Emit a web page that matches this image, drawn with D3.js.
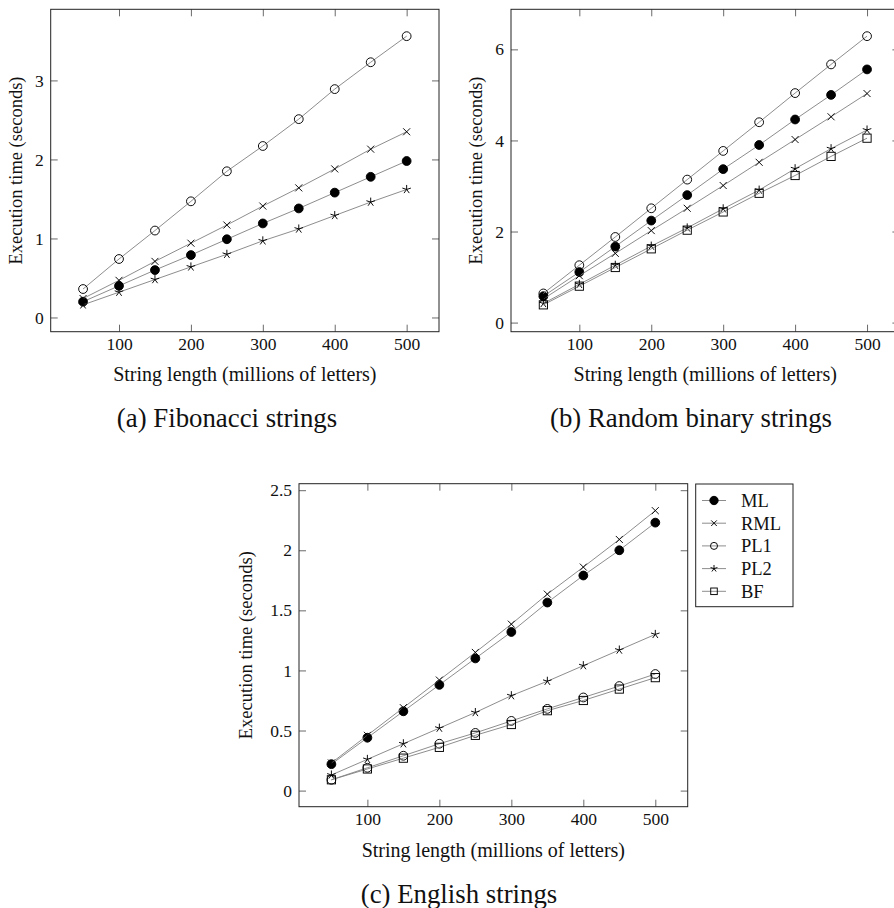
<!DOCTYPE html>
<html>
<head>
<meta charset="utf-8">
<script src="https://cdn.jsdelivr.net/npm/d3@7"></script>
<style>
  body { margin: 0; background: #fff; }
  svg { display: block; font-family: "Liberation Serif", "DejaVu Serif", serif; }
</style>
</head>
<body>
<svg id="fig" width="894" height="908"></svg>
<script>
// x values shared by all three plots (millions of letters)
const lengths = [50, 100, 150, 200, 250, 300, 350, 400, 450, 500];
const xTicks = [100, 200, 300, 400, 500];

// (a) Fibonacci strings
const fibML  = [0.20, 0.40, 0.60, 0.79, 0.99, 1.19, 1.38, 1.58, 1.78, 1.98];
const fibRML = [0.24, 0.47, 0.71, 0.94, 1.17, 1.41, 1.64, 1.88, 2.13, 2.35];
const fibPL1 = [0.36, 0.74, 1.10, 1.47, 1.85, 2.17, 2.51, 2.89, 3.23, 3.56];
const fibPL2 = [0.16, 0.32, 0.48, 0.64, 0.80, 0.97, 1.12, 1.29, 1.46, 1.62];
const fibYTicks = [0, 1, 2, 3];

// (b) Random binary strings
const rndML  = [0.58, 1.11, 1.67, 2.24, 2.80, 3.37, 3.90, 4.46, 5.00, 5.56];
const rndRML = [0.52, 1.03, 1.52, 2.02, 2.51, 3.01, 3.52, 4.02, 4.52, 5.03];
const rndPL1 = [0.64, 1.26, 1.88, 2.51, 3.14, 3.77, 4.40, 5.04, 5.67, 6.29];
const rndPL2 = [0.42, 0.84, 1.26, 1.68, 2.08, 2.50, 2.91, 3.38, 3.82, 4.23];
const rndBF  = [0.39, 0.80, 1.21, 1.62, 2.03, 2.43, 2.84, 3.23, 3.65, 4.05];
const rndYTicks = [0, 2, 4, 6];

// (c) English strings
const engML  = [0.22, 0.44, 0.66, 0.88, 1.10, 1.32, 1.565, 1.79, 2.00, 2.23];
const engRML = [0.23, 0.46, 0.69, 0.92, 1.15, 1.385, 1.635, 1.86, 2.09, 2.33];
const engPL1 = [0.09, 0.19, 0.29, 0.39, 0.48, 0.58, 0.68, 0.775, 0.87, 0.97];
const engPL2 = [0.13, 0.26, 0.39, 0.52, 0.65, 0.79, 0.91, 1.04, 1.17, 1.30];
const engBF  = [0.09, 0.18, 0.27, 0.36, 0.46, 0.55, 0.665, 0.75, 0.845, 0.94];
const engYTicks = [0, 0.5, 1, 1.5, 2, 2.5];

const seriesNames = ["ML", "RML", "PL1", "PL2", "BF"];
const markOf = { ML: "dot", RML: "x", PL1: "o", PL2: "star", BF: "square" };

const xLabel = "String length (millions of letters)";
const yLabel = "Execution time (seconds)";

const svg = d3.select("#fig");

// pgfplots style: enlarge limits by 10% of the data range
function enlarge(values) {
    const [lo, hi] = d3.extent(values);
    const pad = (hi - lo) * 0.1;
    return [lo - pad, hi + pad];
}

function drawMark(g, type, x, y, k = 1) {
    const m = g.append("g").attr("transform", `translate(${x},${y})`)
        .attr("stroke", "#000").attr("stroke-width", 0.95).attr("fill", "none");
    if (type === "dot") {
        m.append("circle").attr("r", 4.4 * k).attr("fill", "#000");
    } else if (type === "o") {
        m.append("circle").attr("r", 4.4 * k);
    } else if (type === "x") {
        const s = 3.5 * k;
        m.append("path").attr("d", `M${-s},${-s}L${s},${s}M${-s},${s}L${s},${-s}`);
    } else if (type === "star") {
        const r = 4.5 * k;
        let d = "";
        for (let i = 0; i < 5; i++) {
            const a = -Math.PI / 2 + i * 2 * Math.PI / 5;
            d += `M0,0L${r * Math.cos(a)},${r * Math.sin(a)}`;
        }
        m.append("path").attr("d", d);
    } else if (type === "square") {
        const s = 4.1 * k;
        m.append("rect").attr("x", -s).attr("y", -s).attr("width", 2 * s).attr("height", 2 * s);
    }
}

function drawPlot(opt) {
    const { left, right, top, bottom, series, yTicks } = opt;
    const allY = series.flatMap(s => s.values);
    const x = d3.scaleLinear().domain(enlarge(lengths)).range([left, right]);
    const y = d3.scaleLinear().domain(enlarge(allY)).range([bottom, top]);
    const g = svg.append("g");

    // ticks inside, mirrored on all four sides
    const tickStyle = sel => {
        sel.select(".domain").remove();
        sel.selectAll(".tick line").attr("stroke", "#444").attr("stroke-width", 0.8);
        sel.selectAll(".tick text").attr("fill", "#111").attr("font-size", 17.5)
            .attr("font-family", "Liberation Serif");
    };
    g.append("g").attr("transform", `translate(0,${bottom})`)
        .call(d3.axisBottom(x).tickValues(xTicks).tickSizeInner(-7).tickSizeOuter(0).tickPadding(6))
        .call(tickStyle);
    g.append("g").attr("transform", `translate(0,${top})`)
        .call(d3.axisTop(x).tickValues(xTicks).tickSizeInner(-7).tickSizeOuter(0).tickFormat(""))
        .call(tickStyle);
    g.append("g").attr("transform", `translate(${left},0)`)
        .call(d3.axisLeft(y).tickValues(yTicks).tickSizeInner(-7).tickSizeOuter(0).tickPadding(7)
            .tickFormat(d => String(d)))
        .call(tickStyle);
    g.append("g").attr("transform", `translate(${right},0)`)
        .call(d3.axisRight(y).tickValues(yTicks).tickSizeInner(-7).tickSizeOuter(0).tickFormat(""))
        .call(tickStyle);

    g.append("rect")
        .attr("x", left).attr("y", top)
        .attr("width", right - left).attr("height", bottom - top)
        .attr("fill", "none").attr("stroke", "#222").attr("stroke-width", 1);

    const line = d3.line().x((d, i) => x(lengths[i])).y(d => y(d));
    series.forEach(s => {
        g.append("path").datum(s.values)
            .attr("d", line)
            .attr("fill", "none")
            .attr("stroke", "#808080")
            .attr("stroke-width", 0.9);
        s.values.forEach((v, i) => drawMark(g, markOf[s.name], x(lengths[i]), y(v)));
    });

    // axis titles
    g.append("text")
        .attr("x", (left + right) / 2).attr("y", opt.xLabelY)
        .attr("text-anchor", "middle").attr("font-size", 20).attr("fill", "#111")
        .text(xLabel);
    g.append("text")
        .attr("transform", `translate(${opt.yLabelX},${(top + bottom) / 2}) rotate(-90)`)
        .attr("text-anchor", "middle").attr("font-size", 18.5).attr("fill", "#111")
        .text(yLabel);

    svg.append("text")
        .attr("x", opt.captionX).attr("y", opt.captionY)
        .attr("text-anchor", "middle").attr("font-size", 26.8).attr("fill", "#111")
        .text(opt.caption);
}

drawPlot({
    left: 50.7, right: 439, top: 9.3, bottom: 331.7,
    yTicks: fibYTicks,
    series: [
        { name: "ML", values: fibML },
        { name: "RML", values: fibRML },
        { name: "PL1", values: fibPL1 },
        { name: "PL2", values: fibPL2 }
    ],
    xLabelY: 381, yLabelX: 22,
    caption: "(a) Fibonacci strings", captionX: 227, captionY: 427
});

drawPlot({
    left: 511, right: 899.4, top: 9.3, bottom: 331.7,
    yTicks: rndYTicks,
    series: [
        { name: "ML", values: rndML },
        { name: "RML", values: rndRML },
        { name: "PL1", values: rndPL1 },
        { name: "PL2", values: rndPL2 },
        { name: "BF", values: rndBF }
    ],
    xLabelY: 381, yLabelX: 482,
    caption: "(b) Random binary strings", captionX: 691, captionY: 427
});

drawPlot({
    left: 299, right: 687.7, top: 483.7, bottom: 806.7,
    yTicks: engYTicks,
    series: [
        { name: "ML", values: engML },
        { name: "RML", values: engRML },
        { name: "PL1", values: engPL1 },
        { name: "PL2", values: engPL2 },
        { name: "BF", values: engBF }
    ],
    xLabelY: 857, yLabelX: 252,
    caption: "(c) English strings", captionX: 459, captionY: 903
});

// legend of plot (c)
const legend = svg.append("g");
legend.append("rect")
    .attr("x", 695.7).attr("y", 484)
    .attr("width", 97.3).attr("height", 122.7)
    .attr("fill", "#fff").attr("stroke", "#222").attr("stroke-width", 1);
const rowY = d3.scalePoint().domain(seriesNames).range([500.5, 591.3]);
seriesNames.forEach(name => {
    const cy = rowY(name);
    legend.append("line")
        .attr("x1", 702).attr("x2", 726).attr("y1", cy).attr("y2", cy)
        .attr("stroke", "#808080").attr("stroke-width", 0.9);
    drawMark(legend, markOf[name], 714, cy, name === "ML" ? 0.95 : 0.8);
    legend.append("text")
        .attr("x", 741).attr("y", cy + 6.3)
        .attr("font-size", 18.5).attr("fill", "#111")
        .text(name);
});
</script>
</body>
</html>
